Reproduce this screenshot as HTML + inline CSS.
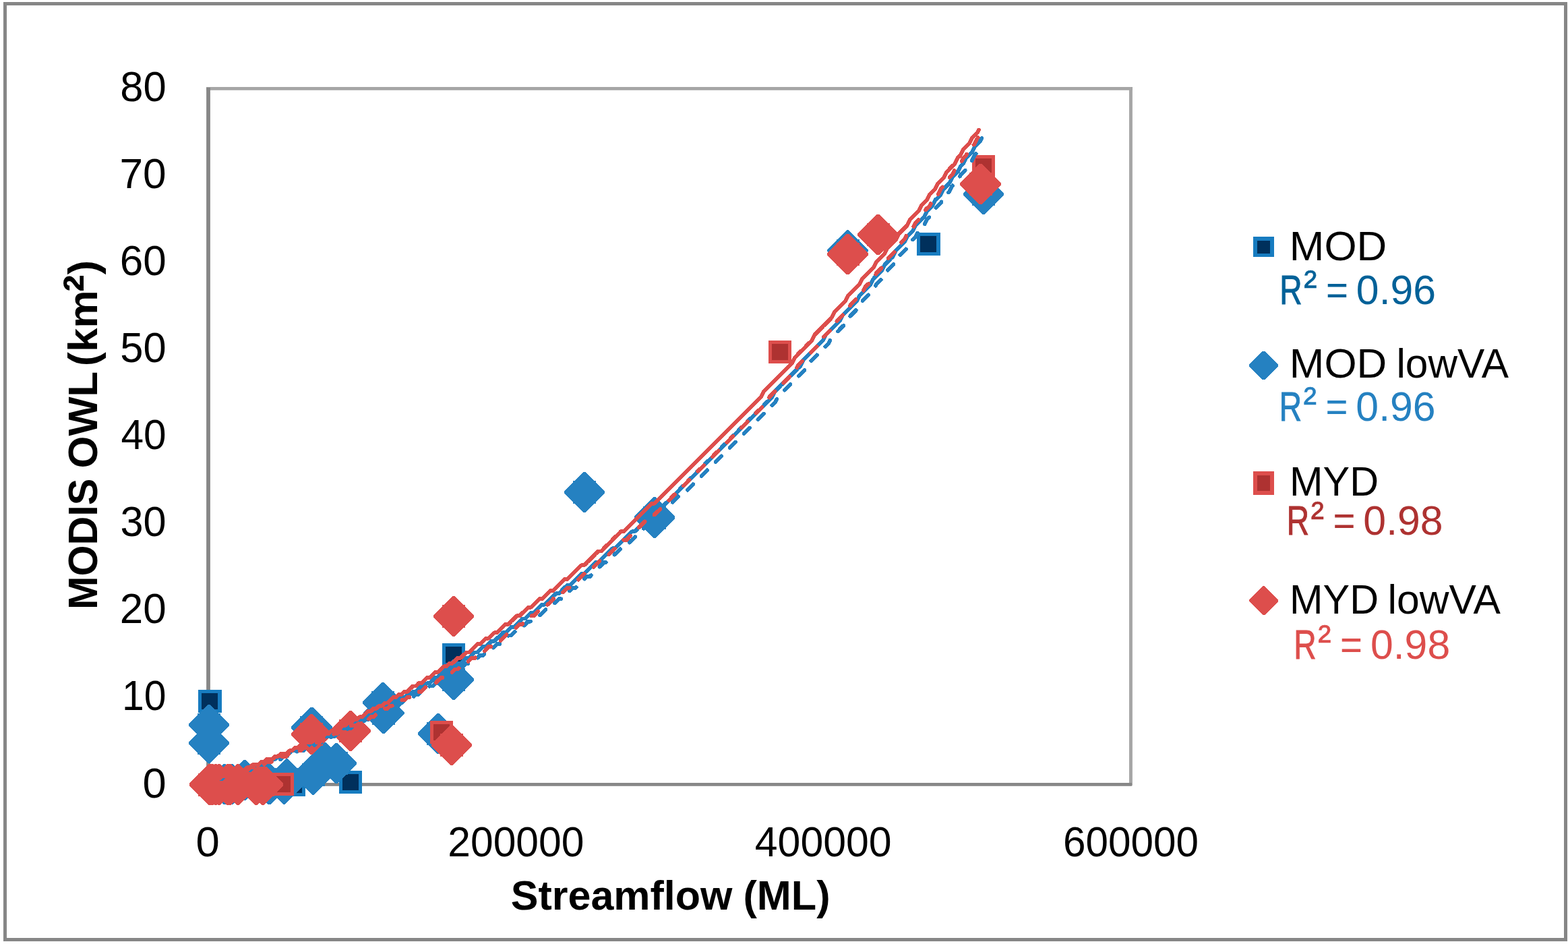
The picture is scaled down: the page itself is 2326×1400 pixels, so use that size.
<!DOCTYPE html>
<html><head><meta charset="utf-8"><title>MODIS OWL vs Streamflow</title>
<style>
html,body{margin:0;padding:0;background:#fff;}
svg{display:block;font-family:"Liberation Sans", sans-serif;}
</style></head>
<body>
<svg width="2326" height="1400" viewBox="0 0 2326 1400">
<rect x="0" y="0" width="2326" height="1400" fill="#fff"/>
<rect x="7.5" y="5.5" width="2315" height="1388" fill="none" stroke="#868686" stroke-width="5"/>
<rect x="306" y="129" width="1374" height="4.8" fill="#A6A6A6"/>
<rect x="1675" y="129" width="4.9" height="1036" fill="#A6A6A6"/>
<rect x="306.1" y="130" width="5.8" height="1035.8" fill="#878787"/>
<rect x="306.1" y="1161" width="1372.8" height="4.8" fill="#878787"/>
<g shape-rendering="crispEdges">
<rect x="293.5" y="1023.0" width="35" height="34" fill="#177CC0"/><rect x="298.5" y="1028.0" width="24" height="24" fill="#00305C"/>
<rect x="419.0" y="1147.0" width="34" height="34" fill="#177CC0"/><rect x="424.0" y="1152.0" width="24" height="24" fill="#00305C"/>
<rect x="503.0" y="1143.0" width="34" height="34" fill="#177CC0"/><rect x="508.0" y="1148.0" width="24" height="24" fill="#00305C"/>
<rect x="656.0" y="954.0" width="34" height="34" fill="#177CC0"/><rect x="661.0" y="959.0" width="24" height="24" fill="#00305C"/>
<rect x="1360.0" y="345.0" width="35" height="34" fill="#177CC0"/><rect x="1365.0" y="350.0" width="24" height="24" fill="#00305C"/>
<polygon points="308.5,1044.8 311.5,1044.8 340.2,1073.5 340.2,1076.5 311.5,1105.2 308.5,1105.2 279.8,1076.5 279.8,1073.5" fill="#2581C1"/><rect x="293.0" y="1058.0" width="34" height="34" fill="#2581C1"/>
<polygon points="308.5,1071.8 311.5,1071.8 340.2,1100.5 340.2,1103.5 311.5,1132.2 308.5,1132.2 279.8,1103.5 279.8,1100.5" fill="#2581C1"/><rect x="293.0" y="1085.0" width="34" height="34" fill="#2581C1"/>
<polygon points="331.5,1132.8 334.5,1132.8 363.2,1161.5 363.2,1164.5 334.5,1193.2 331.5,1193.2 302.8,1164.5 302.8,1161.5" fill="#2581C1"/><rect x="316.0" y="1146.0" width="34" height="34" fill="#2581C1"/>
<polygon points="342.5,1132.8 345.5,1132.8 374.2,1161.5 374.2,1164.5 345.5,1193.2 342.5,1193.2 313.8,1164.5 313.8,1161.5" fill="#2581C1"/><rect x="327.0" y="1146.0" width="34" height="34" fill="#2581C1"/>
<polygon points="361.5,1126.8 364.5,1126.8 393.2,1155.5 393.2,1158.5 364.5,1187.2 361.5,1187.2 332.8,1158.5 332.8,1155.5" fill="#2581C1"/><rect x="346.0" y="1140.0" width="34" height="34" fill="#2581C1"/>
<polygon points="398.1,1132.8 401.1,1132.8 429.8,1161.5 429.8,1164.5 401.1,1193.2 398.1,1193.2 369.4,1164.5 369.4,1161.5" fill="#2581C1"/><rect x="382.6" y="1146.0" width="34" height="34" fill="#2581C1"/>
<polygon points="419.8,1132.3 422.8,1132.3 451.5,1161.0 451.5,1164.0 422.8,1192.7 419.8,1192.7 391.1,1164.0 391.1,1161.0" fill="#2581C1"/><rect x="404.3" y="1145.5" width="34" height="34" fill="#2581C1"/>
<polygon points="423.9,1125.3 426.9,1125.3 455.6,1154.0 455.6,1157.0 426.9,1185.7 423.9,1185.7 395.2,1157.0 395.2,1154.0" fill="#2581C1"/><rect x="408.4" y="1138.5" width="34" height="34" fill="#2581C1"/>
<polygon points="463.1,1118.3 466.1,1118.3 494.8,1147.0 494.8,1150.0 466.1,1178.7 463.1,1178.7 434.4,1150.0 434.4,1147.0" fill="#2581C1"/><rect x="447.6" y="1131.5" width="34" height="34" fill="#2581C1"/>
<polygon points="480.5,1100.8 483.5,1100.8 512.2,1129.5 512.2,1132.5 483.5,1161.2 480.5,1161.2 451.8,1132.5 451.8,1129.5" fill="#2581C1"/><rect x="465.0" y="1114.0" width="34" height="34" fill="#2581C1"/>
<polygon points="497.5,1101.8 500.5,1101.8 529.2,1130.5 529.2,1133.5 500.5,1162.2 497.5,1162.2 468.8,1133.5 468.8,1130.5" fill="#2581C1"/><rect x="482.0" y="1115.0" width="34" height="34" fill="#2581C1"/>
<polygon points="460.8,1048.8 463.8,1048.8 492.5,1077.5 492.5,1080.5 463.8,1109.2 460.8,1109.2 432.1,1080.5 432.1,1077.5" fill="#2581C1"/><rect x="445.3" y="1062.0" width="34" height="34" fill="#2581C1"/>
<polygon points="566.5,1011.8 569.5,1011.8 598.2,1040.5 598.2,1043.5 569.5,1072.2 566.5,1072.2 537.8,1043.5 537.8,1040.5" fill="#2581C1"/><rect x="551.0" y="1025.0" width="34" height="34" fill="#2581C1"/>
<polygon points="567.8,1027.5 570.8,1027.5 599.5,1056.2 599.5,1059.2 570.8,1087.9 567.8,1087.9 539.1,1059.2 539.1,1056.2" fill="#2581C1"/><rect x="552.3" y="1040.7" width="34" height="34" fill="#2581C1"/>
<polygon points="671.5,977.8 674.5,977.8 703.2,1006.5 703.2,1009.5 674.5,1038.2 671.5,1038.2 642.8,1009.5 642.8,1006.5" fill="#2581C1"/><rect x="656.0" y="991.0" width="34" height="34" fill="#2581C1"/>
<polygon points="648.5,1057.8 651.5,1057.8 680.2,1086.5 680.2,1089.5 651.5,1118.2 648.5,1118.2 619.8,1089.5 619.8,1086.5" fill="#2581C1"/><rect x="633.0" y="1071.0" width="34" height="34" fill="#2581C1"/>
<polygon points="865.5,699.8 868.5,699.8 897.2,728.5 897.2,731.5 868.5,760.2 865.5,760.2 836.8,731.5 836.8,728.5" fill="#2581C1"/><rect x="850.0" y="713.0" width="34" height="34" fill="#2581C1"/>
<polygon points="969.5,737.3 972.5,737.3 1001.2,766.0 1001.2,769.0 972.5,797.7 969.5,797.7 940.8,769.0 940.8,766.0" fill="#2581C1"/><rect x="954.0" y="750.5" width="34" height="34" fill="#2581C1"/>
<polygon points="1256.0,341.3 1259.0,341.3 1287.7,370.0 1287.7,373.0 1259.0,401.7 1256.0,401.7 1227.3,373.0 1227.3,370.0" fill="#2581C1"/><rect x="1240.5" y="354.5" width="34" height="34" fill="#2581C1"/>
<polygon points="1457.5,257.8 1460.5,257.8 1489.2,286.5 1489.2,289.5 1460.5,318.2 1457.5,318.2 1428.8,289.5 1428.8,286.5" fill="#2581C1"/><rect x="1442.0" y="271.0" width="34" height="34" fill="#2581C1"/>
<rect x="402.0" y="1146.0" width="34" height="34" fill="#DD4E4C"/><rect x="407.0" y="1151.0" width="24" height="24" fill="#AE3231"/>
<rect x="638.0" y="1069.0" width="34" height="34" fill="#DD4E4C"/><rect x="643.0" y="1074.0" width="24" height="24" fill="#AE3231"/>
<rect x="1140.0" y="505.0" width="34" height="34" fill="#DD4E4C"/><rect x="1145.0" y="510.0" width="24" height="24" fill="#AE3231"/>
<rect x="1442.0" y="230.0" width="34" height="34" fill="#DD4E4C"/><rect x="1447.0" y="235.0" width="24" height="24" fill="#AE3231"/>
<polygon points="309.5,1133.3 312.5,1133.3 341.2,1162.0 341.2,1165.0 312.5,1193.7 309.5,1193.7 280.8,1165.0 280.8,1162.0" fill="#DD4E4C"/><rect x="294.0" y="1146.5" width="34" height="34" fill="#DD4E4C"/>
<polygon points="313.5,1133.3 316.5,1133.3 345.2,1162.0 345.2,1165.0 316.5,1193.7 313.5,1193.7 284.8,1165.0 284.8,1162.0" fill="#DD4E4C"/><rect x="298.0" y="1146.5" width="34" height="34" fill="#DD4E4C"/>
<polygon points="318.5,1133.3 321.5,1133.3 350.2,1162.0 350.2,1165.0 321.5,1193.7 318.5,1193.7 289.8,1165.0 289.8,1162.0" fill="#DD4E4C"/><rect x="303.0" y="1146.5" width="34" height="34" fill="#DD4E4C"/>
<polygon points="323.5,1133.3 326.5,1133.3 355.2,1162.0 355.2,1165.0 326.5,1193.7 323.5,1193.7 294.8,1165.0 294.8,1162.0" fill="#DD4E4C"/><rect x="308.0" y="1146.5" width="34" height="34" fill="#DD4E4C"/>
<polygon points="336.5,1133.3 339.5,1133.3 368.2,1162.0 368.2,1165.0 339.5,1193.7 336.5,1193.7 307.8,1165.0 307.8,1162.0" fill="#DD4E4C"/><rect x="321.0" y="1146.5" width="34" height="34" fill="#DD4E4C"/>
<polygon points="339.5,1133.3 342.5,1133.3 371.2,1162.0 371.2,1165.0 342.5,1193.7 339.5,1193.7 310.8,1165.0 310.8,1162.0" fill="#DD4E4C"/><rect x="324.0" y="1146.5" width="34" height="34" fill="#DD4E4C"/>
<polygon points="351.5,1133.3 354.5,1133.3 383.2,1162.0 383.2,1165.0 354.5,1193.7 351.5,1193.7 322.8,1165.0 322.8,1162.0" fill="#DD4E4C"/><rect x="336.0" y="1146.5" width="34" height="34" fill="#DD4E4C"/>
<polygon points="378.5,1133.3 381.5,1133.3 410.2,1162.0 410.2,1165.0 381.5,1193.7 378.5,1193.7 349.8,1165.0 349.8,1162.0" fill="#DD4E4C"/><rect x="363.0" y="1146.5" width="34" height="34" fill="#DD4E4C"/>
<polygon points="388.5,1133.3 391.5,1133.3 420.2,1162.0 420.2,1165.0 391.5,1193.7 388.5,1193.7 359.8,1165.0 359.8,1162.0" fill="#DD4E4C"/><rect x="373.0" y="1146.5" width="34" height="34" fill="#DD4E4C"/>
<polygon points="460.5,1058.8 463.5,1058.8 492.2,1087.5 492.2,1090.5 463.5,1119.2 460.5,1119.2 431.8,1090.5 431.8,1087.5" fill="#DD4E4C"/><rect x="445.0" y="1072.0" width="34" height="34" fill="#DD4E4C"/>
<polygon points="518.5,1053.8 521.5,1053.8 550.2,1082.5 550.2,1085.5 521.5,1114.2 518.5,1114.2 489.8,1085.5 489.8,1082.5" fill="#DD4E4C"/><rect x="503.0" y="1067.0" width="34" height="34" fill="#DD4E4C"/>
<polygon points="668.5,1074.8 671.5,1074.8 700.2,1103.5 700.2,1106.5 671.5,1135.2 668.5,1135.2 639.8,1106.5 639.8,1103.5" fill="#DD4E4C"/><rect x="653.0" y="1088.0" width="34" height="34" fill="#DD4E4C"/>
<polygon points="671.5,883.8 674.5,883.8 703.2,912.5 703.2,915.5 674.5,944.2 671.5,944.2 642.8,915.5 642.8,912.5" fill="#DD4E4C"/><rect x="656.0" y="897.0" width="34" height="34" fill="#DD4E4C"/>
<polygon points="1256.0,346.8 1259.0,346.8 1287.7,375.5 1287.7,378.5 1259.0,407.2 1256.0,407.2 1227.3,378.5 1227.3,375.5" fill="#DD4E4C"/><rect x="1240.5" y="360.0" width="34" height="34" fill="#DD4E4C"/>
<polygon points="1301.0,317.8 1304.0,317.8 1332.7,346.5 1332.7,349.5 1304.0,378.2 1301.0,378.2 1272.3,349.5 1272.3,346.5" fill="#DD4E4C"/><rect x="1285.5" y="331.0" width="34" height="34" fill="#DD4E4C"/>
<polygon points="1453.0,242.8 1456.0,242.8 1484.7,271.5 1484.7,274.5 1456.0,303.2 1453.0,303.2 1424.3,274.5 1424.3,271.5" fill="#DD4E4C"/><rect x="1437.5" y="256.0" width="34" height="34" fill="#DD4E4C"/>
</g>
<g shape-rendering="crispEdges">
<path d="M311.0,1159.1 L312.5,1159.1 L316.7,1155.0 L320.8,1155.0 L325.0,1155.0 L329.2,1155.0 L333.3,1150.8 L337.5,1150.8 L341.7,1150.8 L345.8,1146.6 L350.0,1146.6 L354.2,1142.5 L358.3,1142.5 L362.5,1142.5 L366.7,1138.3 L370.8,1138.3 L375.0,1138.3 L379.2,1134.1 L383.3,1134.1 L387.5,1134.1 L391.7,1130.0 L395.8,1130.0 L400.0,1125.8 L404.2,1125.8 L408.3,1125.8 L412.5,1121.6 L416.7,1121.6 L420.8,1117.5 L425.0,1117.5 L429.2,1117.5 L433.3,1113.3 L437.5,1113.3 L441.7,1109.1 L445.8,1109.1 L450.0,1109.1 L454.2,1105.0 L458.3,1105.0 L462.5,1100.8 L466.7,1100.8 L470.8,1096.6 L475.0,1096.6 L479.2,1096.6 L483.3,1092.5 L487.5,1092.5 L491.7,1088.3 L495.8,1088.3 L500.0,1084.1 L504.2,1084.1 L508.3,1080.0 L512.5,1080.0 L516.7,1075.8 L520.8,1075.8 L525.0,1071.6 L529.2,1071.6 L533.3,1067.5 L537.5,1067.5 L541.7,1063.3 L545.8,1063.3 L550.0,1059.1 L554.2,1059.1 L558.3,1055.0 L562.5,1055.0 L566.7,1050.8 L570.8,1050.8 L575.0,1046.6 L579.2,1046.6 L583.3,1042.5 L587.5,1042.5 L591.7,1038.3 L595.8,1034.1 L600.0,1034.1 L604.2,1030.0 L608.3,1030.0 L612.5,1025.8 L616.7,1025.8 L620.8,1021.6 L625.0,1017.5 L629.2,1017.5 L633.3,1013.3 L637.5,1013.3 L641.7,1009.1 L645.8,1005.0 L650.0,1005.0 L654.2,1000.8 L658.3,996.6 L662.5,996.6 L666.7,992.5 L670.8,992.5 L675.0,988.3 L679.2,984.1 L683.3,984.1 L687.5,980.0 L691.7,975.8 L695.8,975.8 L700.0,971.6 L704.2,967.5 L708.3,967.5 L712.5,963.3 L716.7,959.1 L720.8,959.1 L725.0,955.0 L729.2,950.8 L733.3,950.8 L737.5,946.6 L741.7,942.5 L745.8,938.3 L750.0,938.3 L754.2,934.1 L758.3,930.0 L762.5,930.0 L766.7,925.8 L770.8,921.6 L775.0,917.5 L779.2,917.5 L783.3,913.3 L787.5,909.1 L791.7,909.1 L795.8,905.0 L800.0,900.8 L804.2,896.6 L808.3,896.6 L812.5,892.5 L816.7,888.3 L820.8,884.1 L825.0,880.0 L829.2,880.0 L833.3,875.8 L837.5,871.6 L841.7,867.5 L845.8,867.5 L850.0,863.3 L854.2,859.1 L858.3,855.0 L862.5,850.8 L866.7,850.8 L870.8,846.6 L875.0,842.5 L879.2,838.3 L883.3,834.1 L887.5,834.1 L891.7,830.0 L895.8,825.8 L900.0,821.6 L904.2,817.5 L908.3,813.3 L912.5,813.3 L916.7,809.1 L920.8,805.0 L925.0,800.8 L929.2,796.6 L933.3,792.5 L937.5,788.3 L941.7,788.3 L945.8,784.1 L950.0,780.0 L954.2,775.8 L958.3,771.6 L962.5,767.5 L966.7,763.3 L970.8,759.1 L975.0,755.0 L979.2,750.8 L983.3,750.8 L987.5,746.6 L991.7,742.5 L995.8,738.3 L1000.0,734.1 L1004.2,730.0 L1008.3,725.8 L1012.5,721.6 L1016.7,717.5 L1020.8,713.3 L1025.0,709.1 L1029.2,705.0 L1033.3,700.8 L1037.5,696.6 L1041.7,692.5 L1045.8,688.3 L1050.0,684.1 L1054.2,680.0 L1058.3,675.8 L1062.5,671.6 L1066.7,667.5 L1070.8,663.3 L1075.0,659.1 L1079.2,655.0 L1083.3,650.8 L1087.5,646.6 L1091.7,642.5 L1095.8,638.3 L1100.0,634.1 L1104.2,630.0 L1108.3,625.8 L1112.5,621.6 L1116.7,617.5 L1120.8,613.3 L1125.0,609.1 L1129.2,605.0 L1133.3,600.8 L1137.5,596.6 L1141.7,592.5 L1145.8,588.3 L1150.0,580.0 L1154.2,575.8 L1158.3,571.6 L1162.5,567.5 L1166.7,563.3 L1170.8,559.1 L1175.0,555.0 L1179.2,550.8 L1183.3,546.6 L1187.5,542.5 L1191.7,534.1 L1195.8,530.0 L1200.0,525.8 L1204.2,521.6 L1208.3,517.5 L1212.5,513.3 L1216.7,509.1 L1220.8,505.0 L1225.0,496.6 L1229.2,492.5 L1233.3,488.3 L1237.5,484.1 L1241.7,480.0 L1245.8,475.8 L1250.0,467.5 L1254.2,463.3 L1258.3,459.1 L1262.5,455.0 L1266.7,450.8 L1270.8,446.6 L1275.0,438.3 L1279.2,434.1 L1283.3,430.0 L1287.5,425.8 L1291.7,421.6 L1295.8,413.3 L1300.0,409.1 L1304.2,405.0 L1308.3,400.8 L1312.5,392.5 L1316.7,388.3 L1320.8,384.1 L1325.0,380.0 L1329.2,371.6 L1333.3,367.5 L1337.5,363.3 L1341.7,359.1 L1345.8,350.8 L1350.0,346.6 L1354.2,342.5 L1358.3,334.1 L1362.5,330.0 L1366.7,325.8 L1370.8,321.6 L1375.0,313.3 L1379.2,309.1 L1383.3,305.0 L1387.5,296.6 L1391.7,292.5 L1395.8,288.3 L1400.0,280.0 L1404.2,275.8 L1408.3,271.6 L1412.5,263.3 L1416.7,259.1 L1420.8,255.0 L1425.0,246.6 L1429.2,242.5 L1433.3,234.1 L1437.5,230.0 L1441.7,225.8 L1445.8,217.5 L1450.0,213.3 L1454.2,209.1 L1456.5,205.0" stroke="#2581C1" stroke-width="5.8" fill="none" stroke-linecap="round" stroke-linejoin="round"/>
<path d="M311.0,1159.1 L312.5,1159.1 L316.7,1159.1 L320.8,1155.0 L325.0,1155.0 L329.2,1155.0 L333.3,1150.8 L337.5,1150.8 L341.7,1150.8 L345.8,1146.6 L350.0,1146.6 L354.2,1146.6 L358.3,1146.6 L362.5,1142.5 L366.7,1142.5 L370.8,1142.5 L375.0,1138.3 L379.2,1138.3 L383.3,1138.3 L387.5,1134.1 L391.7,1134.1 L395.8,1134.1 L400.0,1130.0 L404.2,1130.0 L408.3,1125.8 L412.5,1125.8 L416.7,1125.8 L420.8,1121.6 L425.0,1121.6 L429.2,1121.6 L433.3,1117.5 L437.5,1117.5 L441.7,1113.3 L445.8,1113.3 L450.0,1113.3 L454.2,1109.1 L458.3,1109.1 L462.5,1105.0 L466.7,1105.0 L470.8,1100.8 L475.0,1100.8 L479.2,1100.8 L483.3,1096.6 L487.5,1096.6 L491.7,1092.5 L495.8,1092.5 L500.0,1088.3 L504.2,1088.3 L508.3,1084.1 L512.5,1084.1 L516.7,1080.0 L520.8,1080.0 L525.0,1075.8 L529.2,1075.8 L533.3,1071.6 L537.5,1071.6 L541.7,1067.5 L545.8,1067.5 L550.0,1063.3 L554.2,1063.3 L558.3,1059.1 L562.5,1059.1 L566.7,1055.0 L570.8,1055.0 L575.0,1050.8 L579.2,1050.8 L583.3,1046.6 L587.5,1046.6 L591.7,1042.5 L595.8,1042.5 L600.0,1038.3 L604.2,1038.3 L608.3,1034.1 L612.5,1034.1 L616.7,1030.0 L620.8,1030.0 L625.0,1025.8 L629.2,1021.6 L633.3,1021.6 L637.5,1017.5 L641.7,1017.5 L645.8,1013.3 L650.0,1013.3 L654.2,1009.1 L658.3,1005.0 L662.5,1005.0 L666.7,1000.8 L670.8,1000.8 L675.0,996.6 L679.2,992.5 L683.3,992.5 L687.5,988.3 L691.7,984.1 L695.8,984.1 L700.0,980.0 L704.2,980.0 L708.3,975.8 L712.5,971.6 L716.7,971.6 L720.8,967.5 L725.0,963.3 L729.2,963.3 L733.3,959.1 L737.5,955.0 L741.7,955.0 L745.8,950.8 L750.0,946.6 L754.2,942.5 L758.3,942.5 L762.5,938.3 L766.7,934.1 L770.8,934.1 L775.0,930.0 L779.2,925.8 L783.3,921.6 L787.5,921.6 L791.7,917.5 L795.8,913.3 L800.0,913.3 L804.2,909.1 L808.3,905.0 L812.5,900.8 L816.7,900.8 L820.8,896.6 L825.0,892.5 L829.2,888.3 L833.3,888.3 L837.5,884.1 L841.7,880.0 L845.8,875.8 L850.0,871.6 L854.2,871.6 L858.3,867.5 L862.5,863.3 L866.7,859.1 L870.8,855.0 L875.0,855.0 L879.2,850.8 L883.3,846.6 L887.5,842.5 L891.7,838.3 L895.8,834.1 L900.0,834.1 L904.2,830.0 L908.3,825.8 L912.5,821.6 L916.7,817.5 L920.8,813.3 L925.0,809.1 L929.2,809.1 L933.3,805.0 L937.5,800.8 L941.7,796.6 L945.8,792.5 L950.0,788.3 L954.2,784.1 L958.3,780.0 L962.5,780.0 L966.7,775.8 L970.8,771.6 L975.0,767.5 L979.2,763.3 L983.3,759.1 L987.5,755.0 L991.7,750.8 L995.8,746.6 L1000.0,742.5 L1004.2,738.3 L1008.3,734.1 L1012.5,734.1 L1016.7,730.0 L1020.8,725.8 L1025.0,721.6 L1029.2,717.5 L1033.3,713.3 L1037.5,709.1 L1041.7,705.0 L1045.8,700.8 L1050.0,696.6 L1054.2,692.5 L1058.3,688.3 L1062.5,684.1 L1066.7,680.0 L1070.8,675.8 L1075.0,671.6 L1079.2,667.5 L1083.3,663.3 L1087.5,659.1 L1091.7,655.0 L1095.8,650.8 L1100.0,646.6 L1104.2,642.5 L1108.3,638.3 L1112.5,634.1 L1116.7,630.0 L1120.8,625.8 L1125.0,621.6 L1129.2,617.5 L1133.3,613.3 L1137.5,609.1 L1141.7,605.0 L1145.8,600.8 L1150.0,596.6 L1154.2,588.3 L1158.3,584.1 L1162.5,580.0 L1166.7,575.8 L1170.8,571.6 L1175.0,567.5 L1179.2,563.3 L1183.3,559.1 L1187.5,555.0 L1191.7,550.8 L1195.8,546.6 L1200.0,538.3 L1204.2,534.1 L1208.3,530.0 L1212.5,525.8 L1216.7,521.6 L1220.8,517.5 L1225.0,513.3 L1229.2,509.1 L1233.3,500.8 L1237.5,496.6 L1241.7,492.5 L1245.8,488.3 L1250.0,484.1 L1254.2,480.0 L1258.3,471.6 L1262.5,467.5 L1266.7,463.3 L1270.8,459.1 L1275.0,455.0 L1279.2,446.6 L1283.3,442.5 L1287.5,438.3 L1291.7,434.1 L1295.8,430.0 L1300.0,421.6 L1304.2,417.5 L1308.3,413.3 L1312.5,409.1 L1316.7,400.8 L1320.8,396.6 L1325.0,392.5 L1329.2,388.3 L1333.3,380.0 L1337.5,375.8 L1341.7,371.6 L1345.8,367.5 L1350.0,359.1 L1354.2,355.0 L1358.3,350.8 L1362.5,342.5 L1366.7,338.3 L1370.8,334.1 L1375.0,325.8 L1379.2,321.6 L1383.3,317.5 L1387.5,309.1 L1391.7,305.0 L1395.8,300.8 L1400.0,292.5 L1404.2,288.3 L1408.3,284.1 L1412.5,275.8 L1416.7,271.6 L1420.8,267.5 L1425.0,259.1 L1429.2,255.0 L1433.3,250.8 L1437.5,242.5 L1441.7,238.3 L1445.8,230.0 L1450.0,225.8 L1454.2,221.6 L1455.0,217.5" stroke="#2581C1" stroke-width="5.8" fill="none" stroke-linecap="round" stroke-dasharray="12 17.6"/>
<path d="M311.0,1159.1 L312.5,1159.1 L316.7,1155.0 L320.8,1155.0 L325.0,1155.0 L329.2,1150.8 L333.3,1150.8 L337.5,1150.8 L341.7,1146.6 L345.8,1146.6 L350.0,1146.6 L354.2,1142.5 L358.3,1142.5 L362.5,1142.5 L366.7,1138.3 L370.8,1138.3 L375.0,1134.1 L379.2,1134.1 L383.3,1134.1 L387.5,1130.0 L391.7,1130.0 L395.8,1125.8 L400.0,1125.8 L404.2,1125.8 L408.3,1121.6 L412.5,1121.6 L416.7,1117.5 L420.8,1117.5 L425.0,1117.5 L429.2,1113.3 L433.3,1113.3 L437.5,1109.1 L441.7,1109.1 L445.8,1105.0 L450.0,1105.0 L454.2,1100.8 L458.3,1100.8 L462.5,1100.8 L466.7,1096.6 L470.8,1096.6 L475.0,1092.5 L479.2,1092.5 L483.3,1088.3 L487.5,1088.3 L491.7,1084.1 L495.8,1084.1 L500.0,1080.0 L504.2,1080.0 L508.3,1075.8 L512.5,1075.8 L516.7,1071.6 L520.8,1071.6 L525.0,1067.5 L529.2,1067.5 L533.3,1063.3 L537.5,1063.3 L541.7,1059.1 L545.8,1055.0 L550.0,1055.0 L554.2,1050.8 L558.3,1050.8 L562.5,1046.6 L566.7,1046.6 L570.8,1042.5 L575.0,1042.5 L579.2,1038.3 L583.3,1034.1 L587.5,1034.1 L591.7,1030.0 L595.8,1030.0 L600.0,1025.8 L604.2,1025.8 L608.3,1021.6 L612.5,1017.5 L616.7,1017.5 L620.8,1013.3 L625.0,1013.3 L629.2,1009.1 L633.3,1005.0 L637.5,1005.0 L641.7,1000.8 L645.8,996.6 L650.0,996.6 L654.2,992.5 L658.3,988.3 L662.5,988.3 L666.7,984.1 L670.8,984.1 L675.0,980.0 L679.2,975.8 L683.3,975.8 L687.5,971.6 L691.7,967.5 L695.8,967.5 L700.0,963.3 L704.2,959.1 L708.3,955.0 L712.5,955.0 L716.7,950.8 L720.8,946.6 L725.0,946.6 L729.2,942.5 L733.3,938.3 L737.5,938.3 L741.7,934.1 L745.8,930.0 L750.0,925.8 L754.2,925.8 L758.3,921.6 L762.5,917.5 L766.7,913.3 L770.8,913.3 L775.0,909.1 L779.2,905.0 L783.3,900.8 L787.5,900.8 L791.7,896.6 L795.8,892.5 L800.0,888.3 L804.2,888.3 L808.3,884.1 L812.5,880.0 L816.7,875.8 L820.8,875.8 L825.0,871.6 L829.2,867.5 L833.3,863.3 L837.5,859.1 L841.7,859.1 L845.8,855.0 L850.0,850.8 L854.2,846.6 L858.3,842.5 L862.5,838.3 L866.7,838.3 L870.8,834.1 L875.0,830.0 L879.2,825.8 L883.3,821.6 L887.5,817.5 L891.7,817.5 L895.8,813.3 L900.0,809.1 L904.2,805.0 L908.3,800.8 L912.5,796.6 L916.7,792.5 L920.8,788.3 L925.0,788.3 L929.2,784.1 L933.3,780.0 L937.5,775.8 L941.7,771.6 L945.8,767.5 L950.0,763.3 L954.2,759.1 L958.3,755.0 L962.5,750.8 L966.7,746.6 L970.8,746.6 L975.0,742.5 L979.2,738.3 L983.3,734.1 L987.5,730.0 L991.7,725.8 L995.8,721.6 L1000.0,717.5 L1004.2,713.3 L1008.3,709.1 L1012.5,705.0 L1016.7,700.8 L1020.8,696.6 L1025.0,692.5 L1029.2,688.3 L1033.3,684.1 L1037.5,680.0 L1041.7,675.8 L1045.8,671.6 L1050.0,667.5 L1054.2,663.3 L1058.3,659.1 L1062.5,655.0 L1066.7,650.8 L1070.8,646.6 L1075.0,642.5 L1079.2,638.3 L1083.3,634.1 L1087.5,630.0 L1091.7,625.8 L1095.8,621.6 L1100.0,617.5 L1104.2,613.3 L1108.3,609.1 L1112.5,605.0 L1116.7,600.8 L1120.8,596.6 L1125.0,592.5 L1129.2,588.3 L1133.3,580.0 L1137.5,575.8 L1141.7,571.6 L1145.8,567.5 L1150.0,563.3 L1154.2,559.1 L1158.3,555.0 L1162.5,550.8 L1166.7,546.6 L1170.8,542.5 L1175.0,538.3 L1179.2,530.0 L1183.3,525.8 L1187.5,521.6 L1191.7,517.5 L1195.8,513.3 L1200.0,509.1 L1204.2,505.0 L1208.3,496.6 L1212.5,492.5 L1216.7,488.3 L1220.8,484.1 L1225.0,480.0 L1229.2,475.8 L1233.3,471.6 L1237.5,463.3 L1241.7,459.1 L1245.8,455.0 L1250.0,450.8 L1254.2,446.6 L1258.3,438.3 L1262.5,434.1 L1266.7,430.0 L1270.8,425.8 L1275.0,421.6 L1279.2,413.3 L1283.3,409.1 L1287.5,405.0 L1291.7,400.8 L1295.8,396.6 L1300.0,388.3 L1304.2,384.1 L1308.3,380.0 L1312.5,375.8 L1316.7,367.5 L1320.8,363.3 L1325.0,359.1 L1329.2,355.0 L1333.3,346.6 L1337.5,342.5 L1341.7,338.3 L1345.8,334.1 L1350.0,325.8 L1354.2,321.6 L1358.3,317.5 L1362.5,313.3 L1366.7,305.0 L1370.8,300.8 L1375.0,296.6 L1379.2,288.3 L1383.3,284.1 L1387.5,280.0 L1391.7,271.6 L1395.8,267.5 L1400.0,263.3 L1404.2,255.0 L1408.3,250.8 L1412.5,246.6 L1416.7,242.5 L1420.8,234.1 L1425.0,230.0 L1429.2,221.6 L1433.3,217.5 L1437.5,213.3 L1441.7,205.0 L1445.8,200.8 L1450.0,196.6 L1452.0,192.5" stroke="#DD4E4C" stroke-width="5.8" fill="none" stroke-linecap="round" stroke-linejoin="round"/>
<path d="M311.0,1159.1 L312.5,1159.1 L316.7,1159.1 L320.8,1155.0 L325.0,1155.0 L329.2,1155.0 L333.3,1150.8 L337.5,1150.8 L341.7,1150.8 L345.8,1146.6 L350.0,1146.6 L354.2,1146.6 L358.3,1142.5 L362.5,1142.5 L366.7,1142.5 L370.8,1138.3 L375.0,1138.3 L379.2,1138.3 L383.3,1134.1 L387.5,1134.1 L391.7,1134.1 L395.8,1130.0 L400.0,1130.0 L404.2,1130.0 L408.3,1125.8 L412.5,1125.8 L416.7,1121.6 L420.8,1121.6 L425.0,1121.6 L429.2,1117.5 L433.3,1117.5 L437.5,1113.3 L441.7,1113.3 L445.8,1113.3 L450.0,1109.1 L454.2,1109.1 L458.3,1105.0 L462.5,1105.0 L466.7,1100.8 L470.8,1100.8 L475.0,1100.8 L479.2,1096.6 L483.3,1096.6 L487.5,1092.5 L491.7,1092.5 L495.8,1088.3 L500.0,1088.3 L504.2,1084.1 L508.3,1084.1 L512.5,1080.0 L516.7,1080.0 L520.8,1075.8 L525.0,1075.8 L529.2,1075.8 L533.3,1071.6 L537.5,1071.6 L541.7,1067.5 L545.8,1067.5 L550.0,1063.3 L554.2,1063.3 L558.3,1059.1 L562.5,1059.1 L566.7,1055.0 L570.8,1050.8 L575.0,1050.8 L579.2,1046.6 L583.3,1046.6 L587.5,1042.5 L591.7,1042.5 L595.8,1038.3 L600.0,1038.3 L604.2,1034.1 L608.3,1034.1 L612.5,1030.0 L616.7,1030.0 L620.8,1025.8 L625.0,1025.8 L629.2,1021.6 L633.3,1017.5 L637.5,1017.5 L641.7,1013.3 L645.8,1013.3 L650.0,1009.1 L654.2,1005.0 L658.3,1005.0 L662.5,1000.8 L666.7,1000.8 L670.8,996.6 L675.0,992.5 L679.2,992.5 L683.3,988.3 L687.5,984.1 L691.7,984.1 L695.8,980.0 L700.0,975.8 L704.2,975.8 L708.3,971.6 L712.5,967.5 L716.7,967.5 L720.8,963.3 L725.0,959.1 L729.2,959.1 L733.3,955.0 L737.5,950.8 L741.7,950.8 L745.8,946.6 L750.0,942.5 L754.2,938.3 L758.3,938.3 L762.5,934.1 L766.7,930.0 L770.8,925.8 L775.0,925.8 L779.2,921.6 L783.3,917.5 L787.5,913.3 L791.7,913.3 L795.8,909.1 L800.0,905.0 L804.2,900.8 L808.3,900.8 L812.5,896.6 L816.7,892.5 L820.8,888.3 L825.0,888.3 L829.2,884.1 L833.3,880.0 L837.5,875.8 L841.7,871.6 L845.8,871.6 L850.0,867.5 L854.2,863.3 L858.3,859.1 L862.5,855.0 L866.7,850.8 L870.8,850.8 L875.0,846.6 L879.2,842.5 L883.3,838.3 L887.5,834.1 L891.7,830.0 L895.8,830.0 L900.0,825.8 L904.2,821.6 L908.3,817.5 L912.5,813.3 L916.7,809.1 L920.8,805.0 L925.0,800.8 L929.2,800.8 L933.3,796.6 L937.5,792.5 L941.7,788.3 L945.8,784.1 L950.0,780.0 L954.2,775.8 L958.3,771.6 L962.5,767.5 L966.7,763.3 L970.8,763.3 L975.0,759.1 L979.2,755.0 L983.3,750.8 L987.5,746.6 L991.7,742.5 L995.8,738.3 L1000.0,734.1 L1004.2,730.0 L1008.3,725.8 L1012.5,721.6 L1016.7,717.5 L1020.8,713.3 L1025.0,709.1 L1029.2,705.0 L1033.3,700.8 L1037.5,696.6 L1041.7,692.5 L1045.8,688.3 L1050.0,684.1 L1054.2,680.0 L1058.3,675.8 L1062.5,671.6 L1066.7,667.5 L1070.8,663.3 L1075.0,659.1 L1079.2,655.0 L1083.3,650.8 L1087.5,646.6 L1091.7,642.5 L1095.8,638.3 L1100.0,634.1 L1104.2,630.0 L1108.3,625.8 L1112.5,621.6 L1116.7,617.5 L1120.8,613.3 L1125.0,609.1 L1129.2,605.0 L1133.3,600.8 L1137.5,596.6 L1141.7,588.3 L1145.8,584.1 L1150.0,580.0 L1154.2,575.8 L1158.3,571.6 L1162.5,567.5 L1166.7,563.3 L1170.8,559.1 L1175.0,555.0 L1179.2,550.8 L1183.3,542.5 L1187.5,538.3 L1191.7,534.1 L1195.8,530.0 L1200.0,525.8 L1204.2,521.6 L1208.3,517.5 L1212.5,513.3 L1216.7,505.0 L1220.8,500.8 L1225.0,496.6 L1229.2,492.5 L1233.3,488.3 L1237.5,484.1 L1241.7,475.8 L1245.8,471.6 L1250.0,467.5 L1254.2,463.3 L1258.3,459.1 L1262.5,450.8 L1266.7,446.6 L1270.8,442.5 L1275.0,438.3 L1279.2,434.1 L1283.3,425.8 L1287.5,421.6 L1291.7,417.5 L1295.8,413.3 L1300.0,405.0 L1304.2,400.8 L1308.3,396.6 L1312.5,392.5 L1316.7,384.1 L1320.8,380.0 L1325.0,375.8 L1329.2,371.6 L1333.3,363.3 L1337.5,359.1 L1341.7,355.0 L1345.8,346.6 L1350.0,342.5 L1354.2,338.3 L1358.3,330.0 L1362.5,325.8 L1366.7,321.6 L1370.8,313.3 L1375.0,309.1 L1379.2,305.0 L1383.3,296.6 L1387.5,292.5 L1391.7,288.3 L1395.8,280.0 L1400.0,275.8 L1404.2,267.5 L1408.3,263.3 L1412.5,259.1 L1416.7,250.8 L1420.8,246.6 L1425.0,242.5 L1429.2,234.1 L1433.3,230.0 L1437.5,221.6 L1441.7,217.5 L1445.8,213.3 L1450.0,205.0 L1452.5,200.8" stroke="#DD4E4C" stroke-width="5.8" fill="none" stroke-linecap="round" stroke-dasharray="12.5 18"/>
</g>
<g shape-rendering="crispEdges">
<rect x="1859.3" y="350.8" width="30.4" height="30.4" fill="#177CC0"/><rect x="1865.0" y="356.5" width="19.0" height="19.0" fill="#00305C"/>
<polygon points="1873.1,520.6 1876.1,520.6 1896.0,540.5 1896.0,543.5 1876.1,563.4 1873.1,563.4 1853.2,543.5 1853.2,540.5" fill="#2581C1"/>
<rect x="1859.3" y="699.0" width="30.4" height="35" fill="#DD4E4C"/><rect x="1865.0" y="704.7" width="19.0" height="23.6" fill="#AE3231"/>
<polygon points="1873.1,869.3 1876.1,869.3 1896.0,889.2 1896.0,892.2 1876.1,912.1 1873.1,912.1 1853.2,892.2 1853.2,889.2" fill="#DD4E4C"/>
</g>
<g>
<text transform="translate(0,1182.50)" font-size="62.47" font-weight="normal" fill="#000"><tspan x="211.47" y="0.00" textLength="35.18" lengthAdjust="spacingAndGlyphs">0</tspan></text>
<text transform="translate(0,1053.48)" font-size="62.47" font-weight="normal" fill="#000"><tspan x="181.09" y="0.00" textLength="65.46" lengthAdjust="spacingAndGlyphs">10</tspan></text>
<text transform="translate(0,924.46)" font-size="62.47" font-weight="normal" fill="#000"><tspan x="177.70" y="0.00" textLength="68.97" lengthAdjust="spacingAndGlyphs">20</tspan></text>
<text transform="translate(0,795.44)" font-size="62.47" font-weight="normal" fill="#000"><tspan x="178.50" y="0.00" textLength="68.14" lengthAdjust="spacingAndGlyphs">30</tspan></text>
<text transform="translate(0,666.42)" font-size="62.47" font-weight="normal" fill="#000"><tspan x="179.44" y="0.00" textLength="67.16" lengthAdjust="spacingAndGlyphs">40</tspan></text>
<text transform="translate(0,537.40)" font-size="62.47" font-weight="normal" fill="#000"><tspan x="178.34" y="0.00" textLength="68.30" lengthAdjust="spacingAndGlyphs">50</tspan></text>
<text transform="translate(0,408.38)" font-size="62.47" font-weight="normal" fill="#000"><tspan x="177.70" y="0.00" textLength="68.97" lengthAdjust="spacingAndGlyphs">60</tspan></text>
<text transform="translate(0,279.36)" font-size="62.47" font-weight="normal" fill="#000"><tspan x="177.54" y="0.00" textLength="69.14" lengthAdjust="spacingAndGlyphs">70</tspan></text>
<text transform="translate(0,150.34)" font-size="62.47" font-weight="normal" fill="#000"><tspan x="178.18" y="0.00" textLength="68.47" lengthAdjust="spacingAndGlyphs">80</tspan></text>
<text transform="translate(0,1269.60)" font-size="62.47" font-weight="normal" fill="#000"><tspan x="290.46" y="0.00" textLength="35.30" lengthAdjust="spacingAndGlyphs">0</tspan></text>
<text transform="translate(0,1269.60)" font-size="62.47" font-weight="normal" fill="#000"><tspan x="664.27" y="0.00" textLength="202.12" lengthAdjust="spacingAndGlyphs">200000</tspan></text>
<text transform="translate(0,1269.60)" font-size="62.47" font-weight="normal" fill="#000"><tspan x="1119.73" y="0.00" textLength="202.97" lengthAdjust="spacingAndGlyphs">400000</tspan></text>
<text transform="translate(0,1269.60)" font-size="62.47" font-weight="normal" fill="#000"><tspan x="1576.99" y="0.00" textLength="200.99" lengthAdjust="spacingAndGlyphs">600000</tspan></text>
<text transform="translate(0,1349.30)" font-size="61.09" font-weight="bold" fill="#000"><tspan x="757.87" y="0.00" textLength="328.49" lengthAdjust="spacingAndGlyphs">Streamflow</tspan> <tspan x="1102.44" y="0.00" textLength="129.12" lengthAdjust="spacingAndGlyphs">(ML)</tspan></text>
<text transform="translate(144.00,0) rotate(-90)" font-size="61.09" font-weight="bold" fill="#000"><tspan x="-904.00" y="0.00" textLength="194.40" lengthAdjust="spacingAndGlyphs">MODIS</tspan> <tspan x="-694.44" y="0.00" textLength="142.28" lengthAdjust="spacingAndGlyphs">OWL</tspan> <tspan x="-543.18" y="0.00" textLength="113.05" lengthAdjust="spacingAndGlyphs">(km</tspan><tspan x="-432.91" y="8.32" font-size="83.92" textLength="25.49" lengthAdjust="spacingAndGlyphs">²</tspan><tspan x="-407.16" y="0.00" textLength="21.42" lengthAdjust="spacingAndGlyphs">)</tspan></text>
<text transform="translate(0,386.00)" font-size="61.24" font-weight="normal" fill="#000"><tspan x="1912.89" y="0.00" textLength="144.38" lengthAdjust="spacingAndGlyphs">MOD</tspan></text>
<text transform="translate(0,560.00)" font-size="61.24" font-weight="normal" fill="#000"><tspan x="1912.89" y="0.00" textLength="144.38" lengthAdjust="spacingAndGlyphs">MOD</tspan> <tspan x="2071.43" y="0.00" textLength="166.54" lengthAdjust="spacingAndGlyphs">lowVA</tspan></text>
<text transform="translate(0,735.10)" font-size="61.24" font-weight="normal" fill="#000"><tspan x="1913.10" y="0.00" textLength="131.90" lengthAdjust="spacingAndGlyphs">MYD</tspan></text>
<text transform="translate(0,910.00)" font-size="61.24" font-weight="normal" fill="#000"><tspan x="1913.10" y="0.00" textLength="131.90" lengthAdjust="spacingAndGlyphs">MYD</tspan> <tspan x="2058.61" y="0.00" textLength="167.26" lengthAdjust="spacingAndGlyphs">lowVA</tspan></text>
<text transform="translate(0,451.00)" font-size="60.95" font-weight="normal" fill="#026198"><tspan x="1898.18" y="0.00" stroke="#026198" stroke-width="1.0" textLength="33.40" lengthAdjust="spacingAndGlyphs">R</tspan><tspan x="1934.02" y="-6.57" font-size="60.84" stroke="#026198" stroke-width="0.5" textLength="19.65" lengthAdjust="spacingAndGlyphs">²</tspan> <tspan x="1966.88" y="0.00" textLength="33.00" lengthAdjust="spacingAndGlyphs">=</tspan> <tspan x="2011.87" y="0.00" textLength="118.20" lengthAdjust="spacingAndGlyphs">0.96</tspan></text>
<text transform="translate(0,624.00)" font-size="60.95" font-weight="normal" fill="#2581C1"><tspan x="1897.68" y="0.00" stroke="#2581C1" stroke-width="1.0" textLength="33.40" lengthAdjust="spacingAndGlyphs">R</tspan><tspan x="1933.52" y="-6.57" font-size="60.84" stroke="#2581C1" stroke-width="0.5" textLength="19.65" lengthAdjust="spacingAndGlyphs">²</tspan> <tspan x="1966.38" y="0.00" textLength="33.00" lengthAdjust="spacingAndGlyphs">=</tspan> <tspan x="2011.37" y="0.00" textLength="118.20" lengthAdjust="spacingAndGlyphs">0.96</tspan></text>
<text transform="translate(0,793.40)" font-size="60.95" font-weight="normal" fill="#AE3231"><tspan x="1908.68" y="0.00" stroke="#AE3231" stroke-width="1.0" textLength="33.40" lengthAdjust="spacingAndGlyphs">R</tspan><tspan x="1944.52" y="-6.57" font-size="60.84" stroke="#AE3231" stroke-width="0.5" textLength="19.65" lengthAdjust="spacingAndGlyphs">²</tspan> <tspan x="1977.38" y="0.00" textLength="33.00" lengthAdjust="spacingAndGlyphs">=</tspan> <tspan x="2022.37" y="0.00" textLength="118.20" lengthAdjust="spacingAndGlyphs">0.98</tspan></text>
<text transform="translate(0,976.70)" font-size="60.95" font-weight="normal" fill="#DD4E4C"><tspan x="1919.28" y="0.00" stroke="#DD4E4C" stroke-width="1.0" textLength="33.40" lengthAdjust="spacingAndGlyphs">R</tspan><tspan x="1955.12" y="-6.57" font-size="60.84" stroke="#DD4E4C" stroke-width="0.5" textLength="19.65" lengthAdjust="spacingAndGlyphs">²</tspan> <tspan x="1987.98" y="0.00" textLength="33.00" lengthAdjust="spacingAndGlyphs">=</tspan> <tspan x="2032.97" y="0.00" textLength="118.20" lengthAdjust="spacingAndGlyphs">0.98</tspan></text>
</g>
</svg>
</body></html>
